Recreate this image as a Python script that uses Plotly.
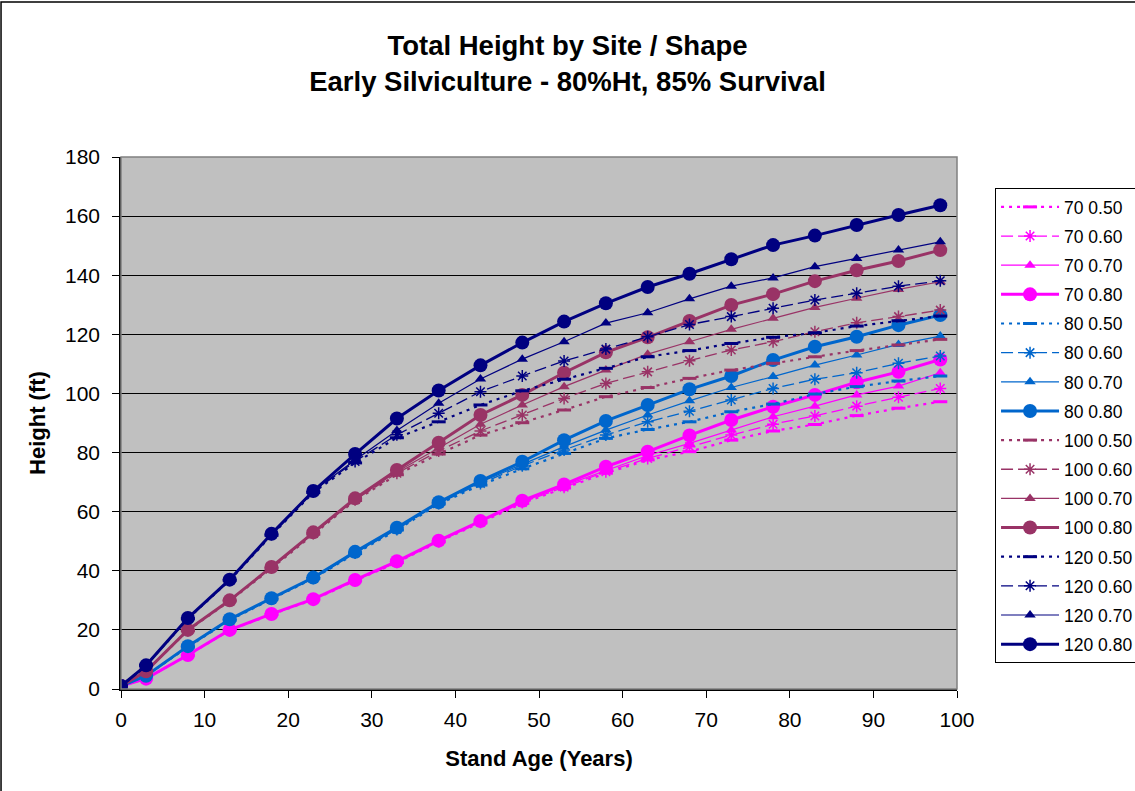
import plotly.graph_objects as go

ages = [0, 3, 8, 13, 18, 23, 28, 33, 38, 43, 48, 53, 58, 63, 68, 73, 78, 83, 88, 93, 98]

h_70_050 = [1, 3.5, 11.4, 19.9, 25.2, 30.2, 36.6, 42.8, 49.8, 56.2, 62.8, 68, 73, 77.5, 80.3, 84.2, 87.3, 89.5, 92.5, 95, 97.2]
h_70_060 = [1, 3.5, 11.5, 20, 25.3, 30.3, 36.7, 42.9, 49.9, 56.4, 63.1, 68.3, 73.5, 78, 82, 85.9, 89.6, 92.4, 95.7, 98.7, 101.7]
h_70_070 = [1, 3.5, 11.5, 20, 25.4, 30.4, 36.8, 43, 50, 56.6, 63.4, 68.8, 74, 79, 83.1, 87.6, 92.1, 95.7, 99.5, 102.5, 107]
h_70_080 = [1, 3.5, 11.5, 20, 25.4, 30.4, 36.9, 43.2, 50.2, 56.8, 63.7, 69.2, 75.2, 80.3, 85.8, 91, 95.5, 99.5, 103.8, 107.3, 111.5]

h_80_050 = [1, 4.5, 14.2, 23.3, 30.4, 37.4, 45.8, 53.8, 62.6, 69, 74.5, 79.7, 84.8, 87.8, 90.4, 93.8, 96.4, 99.8, 102.3, 104.2, 105.9]
h_80_060 = [1, 4.5, 14.3, 23.4, 30.5, 37.5, 46, 54, 62.8, 69.5, 75.5, 80.9, 85.9, 90.4, 94, 97.8, 101.7, 104.8, 107, 110.2, 112.7]
h_80_070 = [1, 4.5, 14.4, 23.5, 30.6, 37.6, 46.2, 54.3, 63, 70, 76, 82, 87.6, 92.7, 97.5, 102, 105.7, 109.6, 113, 116.6, 119.4]
h_80_080 = [1, 4.5, 14.5, 23.6, 30.7, 37.7, 46.4, 54.6, 63.2, 70.4, 76.9, 84.2, 90.7, 96.1, 101.4, 105.9, 111.3, 115.8, 119.2, 123.1, 126.5]

h_100_050 = [1, 6, 19.8, 29.8, 40.8, 52.4, 63.8, 72.5, 79.5, 85.9, 90.1, 94.4, 98.9, 102, 105.1, 107.9, 110.2, 112.4, 114.5, 116.4, 118.3]
h_100_060 = [1, 6, 20, 30, 41, 52.6, 64, 73, 80.5, 87.3, 92.7, 98.3, 103.4, 107.3, 111.1, 114.7, 117.5, 120.9, 123.9, 126, 128.2]
h_100_070 = [1, 6, 20, 30, 41.2, 52.8, 64.2, 73.5, 81.5, 89.6, 96.1, 102.3, 107.9, 113.3, 117.5, 121.7, 125.4, 129.1, 132.2, 135.2, 137.8]
h_100_080 = [1, 6, 20, 30, 41.3, 53, 64.5, 74.1, 83.3, 92.7, 99.5, 107, 113.9, 119, 124.5, 129.9, 133.6, 138, 141.7, 144.8, 148.5]

h_120_050 = [1, 8, 23.8, 36.8, 52, 66.5, 76.5, 85, 90.4, 96.1, 100.9, 104.8, 108.5, 112.4, 114.5, 116.9, 119, 120.5, 122.8, 124.6, 126.2]
h_120_060 = [1, 8, 24, 37, 52.3, 66.8, 77, 86, 93.3, 100.6, 105.9, 111, 115, 119.2, 123.3, 126, 128.8, 131.6, 133.9, 136.3, 138.1]
h_120_070 = [1, 8, 24, 37, 52.5, 67, 77.5, 87.5, 96.7, 104.9, 111.6, 117.5, 123.8, 127.3, 132, 136.3, 139.1, 142.9, 145.7, 148.5, 151.3]
h_120_080 = [1, 8, 24, 37, 52.5, 67, 79.5, 91.5, 101, 109.5, 117.2, 124.3, 130.5, 136, 140.5, 145.4, 150.2, 153.4, 157, 160.4, 163.7]

series = [
    ("70 0.50", h_70_050), ("70 0.60", h_70_060), ("70 0.70", h_70_070), ("70 0.80", h_70_080),
    ("80 0.50", h_80_050), ("80 0.60", h_80_060), ("80 0.70", h_80_070), ("80 0.80", h_80_080),
    ("100 0.50", h_100_050), ("100 0.60", h_100_060), ("100 0.70", h_100_070), ("100 0.80", h_100_080),
    ("120 0.50", h_120_050), ("120 0.60", h_120_060), ("120 0.70", h_120_070), ("120 0.80", h_120_080),
]

site_colors = {"70": "#FF00FF", "80": "#0066CC", "100": "#993366", "120": "#000080"}

styles = {
    "0.50": dict(dash="3px,5px", width=2.2, symbol="line-ew-open", size=10, mlw=3),
    "0.60": dict(dash="12px,5px", width=1.3, symbol="asterisk-open", size=10, mlw=1.5),
    "0.70": dict(dash="solid", width=1.2, symbol="triangle-up", size=10, mlw=0),
    "0.80": dict(dash="solid", width=3, symbol="circle", size=14, mlw=0),
}

FONT = "Arial, Liberation Sans, sans-serif"

fig = go.Figure()
for name, vals in series:
    site, shape = name.split()
    c = site_colors[site]
    st = styles[shape]
    fig.add_trace(go.Scatter(
        x=ages, y=vals, name=name, mode="lines+markers", legendgroup=name,
        line=dict(color=c, width=st["width"], dash=st["dash"]),
        marker=dict(symbol=st["symbol"], size=st["size"], color=c,
                    line=dict(color=c, width=st["mlw"])),
    ))

fig.add_shape(type="rect", xref="paper", yref="paper", x0=0, x1=1, y0=0, y1=1,
              line=dict(color="#808080", width=1.5), layer="above")
fig.add_shape(type="rect", xref="paper", yref="paper", x0=-0.1435, x1=1.4, y0=-0.4, y1=1.2914,
              line=dict(color="#000000", width=1.5), layer="below")

fig.update_layout(
    width=1135, height=791,
    margin=dict(l=121, r=178, t=157, b=102, autoexpand=False),
    paper_bgcolor="white", plot_bgcolor="#C0C0C0",
    font=dict(family=FONT, color="black"),
    title=dict(text="<b>Total Height by Site / Shape<br>Early Silviculture - 80%Ht, 85% Survival</b>",
               x=0.5, xanchor="center", xref="container", y=0.93, yanchor="top",
               font=dict(size=27.5, family=FONT, color="black")),
    showlegend=True,
    legend=dict(x=1.0455, xanchor="left", y=0.9417, yanchor="top",
                bordercolor="black", borderwidth=1, bgcolor="white",
                font=dict(size=17.5, family=FONT, color="black"),
                tracegroupgap=3.4, itemwidth=58, traceorder="grouped"),
    xaxis=dict(range=[0, 100], tickmode="linear", tick0=0, dtick=10,
               showgrid=False, zeroline=False, showline=True, linecolor="black", linewidth=1.5,
               ticks="outside", ticklen=7, tickcolor="black", ticklabelstandoff=4,
               tickfont=dict(size=21, family=FONT, color="black"),
               title=dict(text="<b>Stand Age (Years)</b>", font=dict(size=22, family=FONT, color="black"), standoff=21)),
    yaxis=dict(range=[0, 180], tickmode="linear", tick0=0, dtick=20,
               showgrid=True, gridcolor="black", gridwidth=1, zeroline=False,
               showline=True, linecolor="black", linewidth=1.5,
               ticks="outside", ticklen=7, tickcolor="black", ticklabelstandoff=8,
               tickfont=dict(size=21, family=FONT, color="black"),
               title=dict(text="<b>Height (ft)</b>", font=dict(size=22, family=FONT, color="black"), standoff=13)),
)

fig.write_html("out.html")
